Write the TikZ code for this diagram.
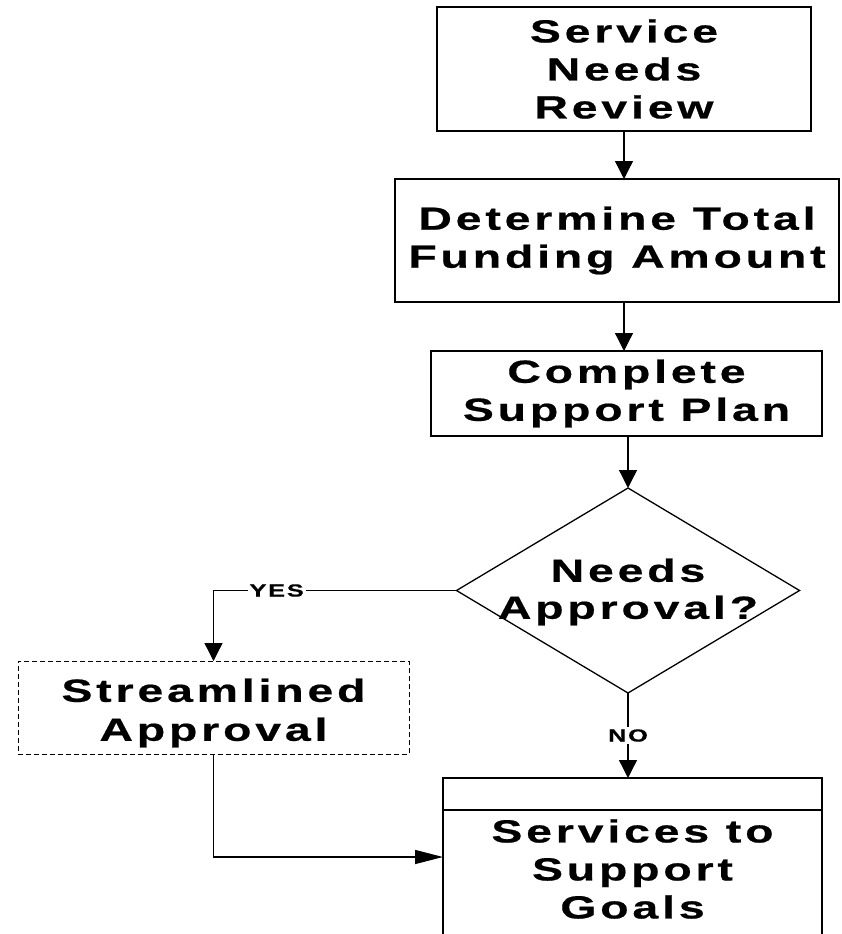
\documentclass[tikz,border=0pt]{standalone}
\usepackage{fontspec}
\setmainfont{Liberation Sans}
\newfontfamily\boxfont{Liberation Sans}[FakeStretch=1.45,LetterSpace=12,BoldFeatures={FakeBold=0.6}]
\newfontfamily\lblfont{Liberation Sans}[FakeStretch=1.45,LetterSpace=10,BoldFeatures={FakeBold=0.4}]
\usetikzlibrary{arrows.meta,shapes.geometric}
\tikzset{
  proc/.style={draw, line width=1.3pt, inner sep=0pt, outer sep=0pt, align=center,
    font={\boxfont\bfseries\fontsize{32}{38}\selectfont}},
  txt/.style={align=center, inner sep=0pt, font={\boxfont\bfseries\fontsize{32}{37}\selectfont}},
  lbl/.style={fill=white, inner sep=2pt, font={\lblfont\bfseries\fontsize{17.5}{20}\selectfont}},
  arr/.style={line width=1.3pt, -{Triangle[length=18pt,width=18pt]}},
  arrlong/.style={line width=1.3pt, -{Triangle[length=28pt,width=14pt]}},
  dbox/.style={draw, line width=1pt, dash pattern=on 5pt off 3pt, inner sep=0pt, outer sep=0pt},
}
\begin{document}
\begin{tikzpicture}[x=1pt,y=-1pt]
\useasboundingbox[fill=white] (0,0) rectangle (841,934);
\clip (0,0) rectangle (841,934);

\node[proc, minimum width=374pt, minimum height=124pt] (b1) at (624,69) {Service\\Needs\\Review};
\node[proc, minimum width=444pt, minimum height=123pt] (b2) at (617,240.5) {Determine Total\\Funding Amount};
\node[proc, minimum width=391pt, minimum height=85pt] (b3) at (626.5,393.5) {Complete\\Support Plan};
\node[diamond, draw, line width=1.3pt, inner sep=0pt, outer sep=0pt, minimum width=343pt, minimum height=205pt] (d) at (628,590.5) {};
\node[txt] (dt) at (628,592) {Needs\\Approval?};
\node[dbox, minimum width=391pt, minimum height=93pt] (s) at (213.5,707.5) {};
\node[txt, font={\boxfont\bfseries\fontsize{32}{39}\selectfont}] (st) at (213.5,713) {Streamlined\\Approval};
\node[proc, minimum width=379pt, minimum height=182pt] (g) at (632.5,869) {Services to\\Support\\Goals};
\draw[line width=1.3pt] ([yshift=-32pt]g.north west) -- ([yshift=-32pt]g.north east);

\draw[arr] (b1.south) -- (b1.south |- b2.north);
\draw[arr] (b2.south -| b1.south) -- (b3.north -| b1.south);
\draw[arr] (b3.south -| d.north) -- (d.north);
\draw[arr] (d.west) -| node[lbl, pos=0.37] {YES} (s.north);
\draw[arr] (d.south) -- node[lbl, pos=0.5] {NO} (g.north -| d.south);
\draw[arrlong] (s.south) |- ([yshift=12pt]g.west);
\end{tikzpicture}
\end{document}
